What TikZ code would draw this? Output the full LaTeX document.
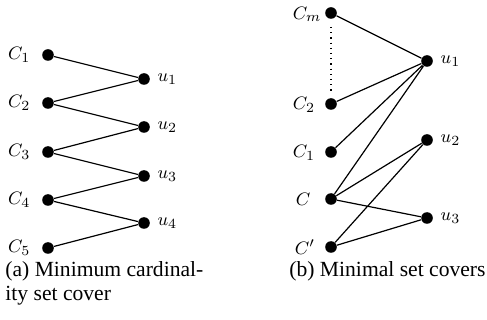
\documentclass[tikz,border=0pt]{standalone}
\usepackage{fontspec}
\setmainfont{Liberation Serif}
\begin{document}
\begin{tikzpicture}[x=0.5pt,y=-0.5pt,
  dot/.style={circle,fill=black,inner sep=0pt,minimum size=5.8pt},
  lbl/.style={inner sep=0pt,font=\fontsize{9.3}{11}\selectfont},
  edge/.style={line width=0.6pt},
  captext/.style={inner sep=0pt,anchor=base west,font=\fontsize{10.8}{13}\selectfont}]
\useasboundingbox (0,0) rectangle (487,320);
% left graph
\node[dot] (a1) at (48,55) {};
\node[dot] (a2) at (48,103) {};
\node[dot] (a3) at (48,152) {};
\node[dot] (a4) at (48,200) {};
\node[dot] (a5) at (48,248) {};
\node[dot] (b1) at (144,79) {};
\node[dot] (b2) at (144,127) {};
\node[dot] (b3) at (144,176) {};
\node[dot] (b4) at (144,223) {};
\foreach \i in {1,...,5}{\node[lbl,anchor=east] (la\i) at ([xshift=-5.5pt]a\i.west) {$C_\i$};}
\foreach \i in {1,...,4}{\node[lbl,anchor=west] (lb\i) at ([xshift=3.5pt]b\i.east) {$u_\i$};}
\draw[edge] (a1)--(b1) (a2)--(b1) (a2)--(b2) (a3)--(b2) (a3)--(b3) (a4)--(b3) (a4)--(b4) (a5)--(b4);
% right graph
\node[dot] (cm) at (331,13) {};
\node[dot] (c2) at (331,104) {};
\node[dot] (c1) at (331,152) {};
\node[dot] (c) at (331,199) {};
\node[dot] (cp) at (331,247) {};
\node[dot] (v1) at (427,61) {};
\node[dot] (v2) at (427,140) {};
\node[dot] (v3) at (427,218) {};
\node[lbl] (lcm) at (307,14) {$C_m$};
\node[lbl] (lc2) at (304,105) {$C_2$};
\node[lbl] (lc1) at (304,153) {$C_1$};
\node[lbl] (lc) at (303,199) {$C$};
\node[lbl] (lcp) at (305,247) {$C'$};
\node[lbl,anchor=west] (lv1) at ([xshift=3.5pt]v1.east) {$u_1$};
\node[lbl,anchor=west] (lv2) at ([xshift=3.5pt]v2.east) {$u_2$};
\node[lbl,anchor=west] (lv3) at ([xshift=3.5pt]v3.east) {$u_3$};
\draw[edge,dotted] ([yshift=-7pt]cm.center)--([yshift=6pt]c2.center);
\draw[edge] (cm)--(v1) (c2)--(v1) (c1)--(v1) (c)--(v1) (c)--(v2) (c)--(v3) (cp)--(v2) (cp)--(v3);
% captions
\node[captext] (capa1) at (5,277) {(a) Minimum cardinal-};
\node[captext] (capa2) at (5,300) {ity set cover};
\node[captext] (capb) at (289,277) {(b) Minimal set covers};
\end{tikzpicture}
\end{document}
